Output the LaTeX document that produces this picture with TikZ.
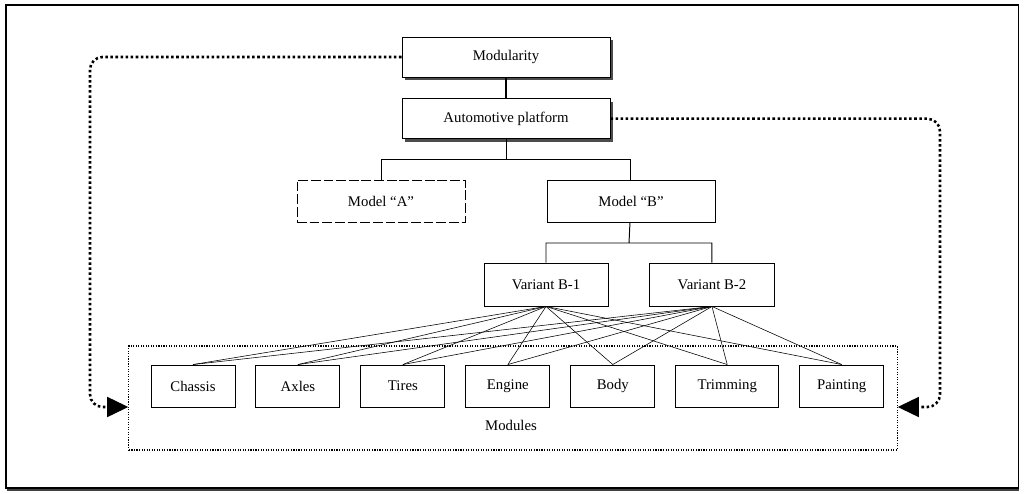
\documentclass[tikz,border=0pt]{standalone}
\usepackage{fontspec}
\setmainfont{Liberation Serif}
\usetikzlibrary{positioning, arrows.meta, shadows}
\tikzset{
box/.style={draw, line width=0.65pt, fill=white, font=\fontsize{10.5}{12}\selectfont},
topbox/.style={box, minimum width=5.2cm, minimum height=1cm,
  drop shadow={shadow xshift=2.2pt, shadow yshift=-2.2pt, fill=black!70, opacity=1}},
modelbox/.style={box, minimum width=4.2cm, minimum height=1.05cm},
varbox/.style={box, minimum width=3.1cm, minimum height=1.075cm},
modbox/.style={box, minimum width=2.1cm, minimum height=1.05cm},
link/.style={line width=0.7pt},
varlink/.style={line width=0.4pt},
fbarrow/.style={line width=1.8pt, dash pattern=on 1.8pt off 1.8pt, rounded corners=9pt,
  -{Triangle[length=15pt,width=14pt]}}
}

\begin{document}
\begin{tikzpicture}[x=0.025cm, y=-0.025cm]
\useasboundingbox (0,0) rectangle (1025,493);
\node[draw, line width=0.9pt, minimum width=25.3cm, minimum height=12.075cm,
  drop shadow={shadow xshift=0.6pt, shadow yshift=-1.8pt, fill=black!75, opacity=1}, fill=white] (outer) at (512,246.5) {};

% hierarchy
\node[topbox] (mod) at (506,57) {Modularity};
\node[topbox, below=5.2mm of mod] (plat) {Automotive platform};
\node[modelbox, dash pattern=on 7pt off 2pt] (ma) at (381,201) {Model “A”};
\node[modelbox, right=2.025cm of ma] (mb) {Model “B”};
\node[varbox] (vb1) at (546,284.5) {Variant B-1};
\node[varbox, right=1.025cm of vb1] (vb2) {Variant B-2};

% modules
\node[modbox] (chs) at (193,386) {Chassis};
\node[modbox, right=5mm of chs] (axl) {Axles};
\node[modbox, right=5mm of axl] (tir) {Tires};
\node[modbox, right=5mm of tir] (eng) {Engine};
\node[modbox, right=5mm of eng] (bod) {Body};
\node[modbox, minimum width=2.575cm, right=5mm of bod] (trm) {Trimming};
\node[modbox, right=5mm of trm] (pnt) {Painting};
\node[draw, line width=0.8pt, dash pattern=on 0.8pt off 1pt, minimum width=19.2cm, minimum height=2.6cm] (modf) at (513,398) {};
\node[font=\fontsize{10.5}{12}\selectfont] (modl) at (511,425) {Modules};

\coordinate (b1) at (506,159);
\coordinate (b2) at (629,243);
\coordinate (lc) at (90,407);
\coordinate (rc) at (940,407);

\draw[line width=1.2pt] (mod) -- (plat);
\draw[link] (plat) -- (b1) -| (ma.north) (b1) -| (mb.north);
\draw[link] (mb) -- (b2) -| (vb1.north) (b2) -| (vb2.north);
\draw[varlink]
(vb1.south) edge (chs.north) edge (axl.north) edge (tir.north) edge (eng.north)
  edge (bod.north) edge (trm.north) edge (pnt.north)
(vb2.south) edge (chs.north) edge (axl.north) edge (tir.north) edge (eng.north)
  edge (bod.north) edge (trm.north) edge (pnt.north)
;
\draw[fbarrow] (mod.west) -| (lc) -- ([yshift=-6.4pt]modf.west);
\draw[fbarrow] (plat.east) -| (rc) -- ([yshift=-6.4pt]modf.east);
\end{tikzpicture}
\end{document}
